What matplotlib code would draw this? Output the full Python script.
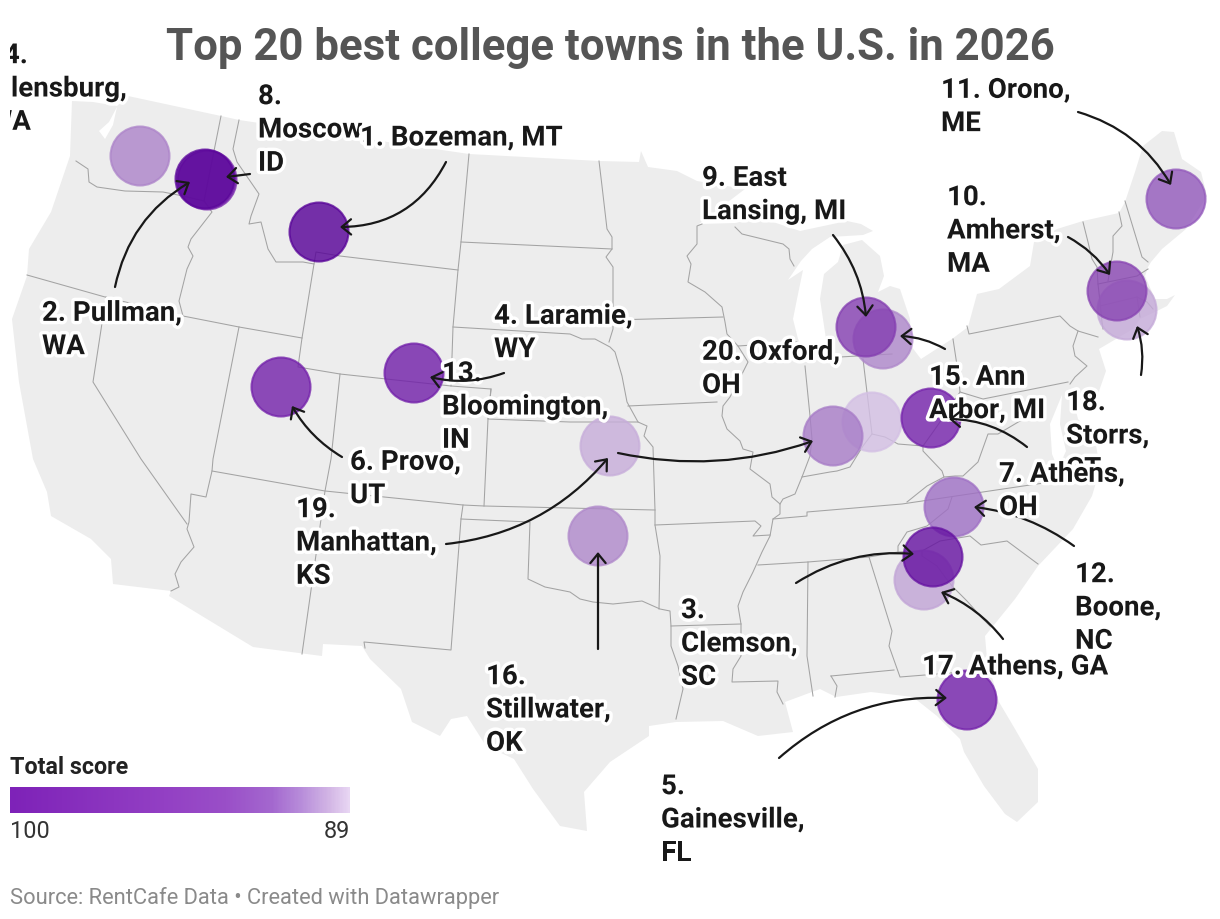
import numpy as np
import matplotlib
matplotlib.use("Agg")
import matplotlib.pyplot as plt
import matplotlib.patheffects as pe
from matplotlib.colors import LinearSegmentedColormap, Normalize
from matplotlib.patches import FancyArrowPatch, Rectangle

plt.rcParams['font.family'] = ['Roboto', 'DejaVu Sans']

# towns, by rank
ranks = list(range(1, 21))
town_labels = ["1. Bozeman, MT", "2. Pullman,\nWA", "3.\nClemson,\nSC", "4. Laramie,\nWY",
               "5.\nGainesville,\nFL", "6. Provo,\nUT", "7. Athens,\nOH", "8.\nMoscow,\nID",
               "9. East\nLansing, MI", "10.\nAmherst,\nMA", "11. Orono,\nME", "12.\nBoone,\nNC",
               "13.\nBloomington,\nIN", "14.\nEllensburg,\nWA", "15. Ann\nArbor, MI",
               "16.\nStillwater,\nOK", "17. Athens, GA", "18.\nStorrs,\nCT",
               "19.\nManhattan,\nKS", "20. Oxford,\nOH"]
scores = [100, 99.6, 98.6, 97.6, 97.5, 97.4, 97.3, 97.1, 95.0, 94.5,
          93.8, 93.0, 92.2, 91.8, 91.6, 91.5, 90.4, 90.2, 90.0, 89.0]

# projected town positions on the map (map pixels)
town_x = [319, 205, 933, 414, 967, 281, 931, 207, 866, 1117, 1176, 954, 833, 140, 883, 598, 924, 1127, 610, 872]
town_y = [233, 180, 558, 374, 701, 388, 419, 181, 328, 292, 200, 508, 437, 157, 340, 537, 581, 311, 447, 423]

label_x = [360, 42, 681, 494, 661, 350, 999, 258, 702, 947, 941, 1075, 442, -12, 929, 486, 922, 1066, 296, 702]
label_y = [139, 331, 645, 334, 821, 480, 492, 131, 196, 232, 108, 609, 408, 90, 395, 711, 668, 437, 544, 370]

# callout arrows: rank, start, end, bend
arrow_ranks = [1, 2, 3, 4, 5, 6, 7, 8, 9, 10, 11, 12, 13, 15, 16, 17, 18, 19]
arrow_start = [(446, 163), (115, 288), (796, 584), (504, 374), (779, 759), (342, 458), (1027, 448), (250, 175),
               (833, 236), (1068, 238), (1078, 113), (1074, 547), (618, 454), (945, 350), (598, 650),
               (1003, 640), (1141, 376), (446, 545)]
arrow_end = [(340, 228), (190, 183), (914, 555), (430, 378), (947, 699), (292, 407), (949, 420), (226, 178),
             (866, 318), (1110, 276), (1171, 186), (974, 508), (813, 442), (900, 337), (598, 553),
             (941, 593), (1137, 327), (608, 459)]
arrow_bend = [-0.3, -0.22, -0.17, -0.15, -0.2, -0.13, 0.17, 0.0, -0.15, -0.12, -0.2, 0.13, 0.14, 0.12, 0.0, 0.13, 0.12, 0.2]

# colour scale
score_stops = [89, 90, 91.5, 93, 94.5, 97.3, 100]
bubble_colors = ["#d3bfe4", "#c7addA", "#af88ca", "#9e6fc4", "#8844b2", "#7421ab", "#560097"]
legend_stops = [89, 89.6, 90.5, 91.5, 93, 95, 100]
legend_colors = ["#e8d6f3", "#d4b8e6", "#b98fdb", "#a468cf", "#9a4fc8", "#9340c4", "#7e22b8"]

# map outline
land_outline = [(72, 102), (93, 103), (117, 107), (128, 97), (221, 117), (239, 121), (469, 155), (599, 162),
                (639, 163), (641, 152), (648, 168), (677, 172), (697, 182), (745, 190), (699, 225), (735, 224),
                (760, 213), (770, 222), (800, 232), (847, 222), (861, 225), (873, 232), (863, 236), (830, 238),
                (812, 250), (801, 262), (788, 281), (803, 271), (797, 300), (793, 320), (798, 340), (808, 358),
                (820, 362), (826, 340), (820, 300), (824, 275), (838, 263), (843, 246), (862, 241), (880, 257),
                (884, 277), (878, 293), (890, 287), (900, 290), (910, 320), (911, 347), (921, 360), (952, 340),
                (968, 328), (977, 295), (999, 290), (1030, 267), (1034, 243), (1057, 230), (1083, 222), (1119, 214),
                (1125, 203), (1135, 173), (1143, 147), (1162, 132), (1174, 133), (1182, 160), (1201, 173),
                (1207, 197), (1186, 230), (1162, 250), (1151, 263), (1148, 268), (1145, 277), (1155, 300),
                (1167, 300), (1175, 296), (1167, 307), (1157, 312), (1140, 320), (1133, 330), (1099, 350),
                (1106, 372), (1098, 395), (1082, 402), (1072, 396), (1078, 420), (1095, 440), (1100, 470),
                (1092, 497), (1073, 530), (1038, 567), (1015, 600), (985, 637), (987, 660), (999, 703), (1015, 730),
                (1038, 770), (1038, 803), (1017, 823), (1005, 815), (984, 787), (964, 753), (960, 740), (937, 717),
                (913, 698), (871, 693), (836, 698), (820, 690), (785, 703), (793, 733), (758, 737), (723, 722),
                (676, 723), (649, 727), (649, 737), (610, 763), (584, 793), (587, 832), (560, 827), (533, 790),
                (514, 760), (486, 747), (467, 717), (451, 720), (440, 737), (412, 723), (401, 690), (370, 660),
                (362, 647), (323, 645), (322, 657), (253, 648), (169, 597), (171, 592), (113, 585), (111, 560),
                (91, 540), (51, 517), (47, 493), (33, 460), (19, 383), (12, 320), (27, 277), (29, 250), (51, 213),
                (70, 157)]

water_bits = [[(1062, 396), (1050, 425), (1052, 455), (1058, 470), (1066, 452), (1060, 425)],
              [(117, 108), (109, 123), (99, 132), (105, 140), (113, 126)]]

state_lines = [
    [(76, 162), (88, 170), (89, 183), (97, 188), (125, 192), (163, 193), (183, 197), (204, 202)],
    [(221, 117), (204, 202), (212, 213), (191, 240), (188, 248), (193, 257), (187, 270), (179, 302), (183, 317)],
    [(27, 276), (105, 298), (183, 317), (239, 328), (302, 339)],
    [(239, 121), (233, 150), (237, 163), (259, 195), (251, 217), (249, 225), (261, 223), (268, 250), (276, 263),
     (303, 263), (314, 265), (316, 253), (340, 257), (458, 271)],
    [(314, 265), (302, 339), (298, 368), (340, 375), (451, 387), (491, 390), (488, 420), (570, 423), (638, 423)],
    [(340, 375), (331, 460), (325, 492), (302, 655)],
    [(469, 155), (461, 243), (458, 271), (453, 328), (451, 387)],
    [(461, 243), (612, 250)],
    [(453, 328), (570, 335), (582, 340), (595, 340), (610, 348), (615, 353), (622, 377), (627, 403), (638, 423),
     (647, 427), (644, 437), (653, 448), (655, 511), (655, 526), (660, 557), (659, 610)],
    [(599, 162), (602, 187), (607, 230), (612, 238), (612, 250), (606, 258), (613, 268), (613, 330), (609, 343)],
    [(613, 321), (723, 318)],
    [(628, 407), (717, 403)],
    [(702, 225), (697, 227), (697, 245), (687, 257), (691, 265), (688, 283), (705, 293), (722, 308), (725, 323),
     (727, 335), (738, 347), (748, 363), (743, 373), (730, 398), (723, 407), (722, 417), (727, 430), (740, 442),
     (743, 450), (753, 453), (750, 470), (770, 485), (772, 498), (780, 505), (780, 515), (773, 520), (770, 537),
     (762, 553), (753, 573), (743, 593), (738, 607), (741, 625), (741, 657), (733, 670), (732, 683), (778, 682),
     (777, 693), (783, 705)],
    [(738, 347), (797, 343)],
    [(735, 228), (742, 235), (783, 245), (789, 250), (790, 260), (794, 267)],
    [(212, 472), (325, 492), (463, 506), (484, 507), (610, 510), (655, 511)],
    [(655, 526), (755, 522), (761, 527), (753, 537), (770, 536)],
    [(671, 627), (741, 625)],
    [(239, 328), (213, 460), (212, 472), (206, 498), (191, 495), (189, 523), (187, 530), (194, 548), (181, 563),
     (175, 575), (179, 588), (171, 592)],
    [(106, 298), (93, 383), (141, 460), (187, 525)],
    [(463, 506), (461, 520), (451, 651), (364, 643), (365, 649)],
    [(461, 520), (530, 523), (528, 580), (545, 588), (570, 593), (580, 600), (593, 603), (613, 605), (642, 602),
     (660, 610), (670, 612), (671, 627), (671, 647), (678, 667), (683, 690), (679, 707), (676, 720)],
    [(491, 390), (488, 420), (484, 507)],
    [(758, 566), (808, 563), (869, 558), (898, 553), (922, 552), (940, 542), (970, 537), (981, 546), (1007, 542),
     (1038, 565)],
    [(773, 520), (807, 517), (807, 513), (902, 505), (1030, 486), (1085, 478)],
    [(808, 563), (807, 657), (813, 697)],
    [(869, 558), (892, 632), (889, 647), (900, 678), (975, 672)],
    [(831, 677), (894, 671)],
    [(831, 677), (837, 687), (835, 698)],
    [(805, 367), (810, 417), (812, 440), (810, 457), (802, 478), (795, 495), (783, 500), (780, 505)],
    [(802, 478), (830, 473), (837, 472), (850, 468), (863, 447), (872, 435), (885, 438), (898, 445), (923, 447),
     (933, 433), (940, 423), (960, 393)],
    [(863, 360), (872, 435)],
    [(840, 358), (892, 355)],
    [(923, 447), (923, 452), (942, 472), (944, 478), (927, 487), (907, 503)],
    [(944, 478), (955, 477), (963, 477), (978, 463), (988, 435), (998, 435), (1020, 422)],
    [(953, 340), (958, 373), (960, 393), (983, 400), (1068, 383)],
    [(967, 327), (969, 335), (1060, 317), (1070, 327), (1078, 332), (1098, 338)],
    [(1078, 332), (1073, 347), (1075, 357), (1087, 367), (1075, 378), (1070, 385)],
    [(1083, 223), (1088, 243), (1092, 260), (1097, 268), (1098, 285), (1100, 303), (1102, 323), (1103, 330)],
    [(1119, 213), (1122, 227), (1113, 237), (1113, 253), (1110, 270), (1108, 282)],
    [(1125, 202), (1142, 258), (1148, 263)],
    [(1098, 285), (1137, 277), (1148, 270)],
    [(1100, 307), (1137, 298), (1147, 303), (1153, 310)],
    [(1137, 298), (1140, 318)],
    [(952, 498), (948, 510), (927, 527), (907, 533), (898, 547), (898, 553)],
    [(922, 552), (922, 557), (937, 567), (948, 582), (953, 588), (967, 602), (983, 620), (990, 627)],
]

PX = 72 / 100  # font pixels to points at this dpi

fig = plt.figure(figsize=(12.2, 9.2), dpi=100)
ax = fig.add_axes([0, 0, 1, 1])

# map
ax.fill(*zip(*land_outline), color="#ededed", lw=0, zorder=1)
for bit in water_bits:
    ax.fill(*zip(*bit), color="white", lw=0, zorder=1)
for line in state_lines:
    ax.plot(*zip(*line), color="#a3a3a3", lw=0.75, zorder=2, solid_joinstyle="round")

# bubbles, low ranks first so the top towns sit on top
bubble_cmap = LinearSegmentedColormap.from_list(
    "bubbles", [((s - 89) / 11, c) for s, c in zip(score_stops, bubble_colors)])
norm = Normalize(89, 100)
order = np.argsort(ranks)[::-1]
rgb = bubble_cmap(norm(np.array(scores)[order]))
face = rgb.copy()
face[:, 3] = 0.8
edge = rgb.copy()
edge[:, 3] = 0.75
ax.scatter(np.array(town_x)[order], np.array(town_y)[order], s=(59 * PX) ** 2,
           facecolors=face, edgecolors=edge, linewidths=1.5, zorder=3)

# labels and arrows go in pairs, rank 20 at the bottom and rank 1 on top
map_clip = Rectangle((10, 0), 1210, 920, transform=ax.transData)
halo = [pe.withStroke(linewidth=5, foreground="white")]
for i, rank in enumerate(ranks):
    t = ax.text(label_x[i], label_y[i], town_labels[i], fontsize=27.7 * PX, fontweight="bold",
                color="#181818", ha="left", va="center", linespacing=1.3,
                path_effects=halo, zorder=100 - rank)
    t.set_clip_path(map_clip)
    t.set_clip_on(True)

for i, rank in enumerate(arrow_ranks):
    arrow = FancyArrowPatch(arrow_start[i], arrow_end[i], connectionstyle="arc3,rad=%s" % arrow_bend[i],
                            arrowstyle="->,head_length=6.7,head_width=5.5", mutation_scale=1,
                            color="#181818", lw=1.6, shrinkA=0, shrinkB=0, zorder=100 - rank + 0.5)
    ax.add_patch(arrow)

ax.text(610, 48, "Top 20 best college towns in the U.S. in 2026", fontsize=43.8 * PX, fontweight="bold",
        color="#555555", ha="center", va="center", zorder=200)

# legend
legend_cmap = LinearSegmentedColormap.from_list(
    "legend", [((s - 89) / 11, c) for s, c in zip(legend_stops, legend_colors)])
ax.text(10, 768, "Total score", fontsize=23.2 * PX, fontweight="bold", color="#222222", ha="left", va="center")
ax.imshow(np.linspace(100, 89, 340)[None, :], extent=(10, 350, 814, 788), cmap=legend_cmap, norm=norm,
          aspect="auto", zorder=5)
ax.text(10, 832, "100", fontsize=23.5 * PX, color="#333333", ha="left", va="center")
ax.text(350, 832, "89", fontsize=23.5 * PX, color="#333333", ha="right", va="center")

ax.text(10, 898, "Source: RentCafe Data \u2022 Created with Datawrapper", fontsize=21.9 * PX, color="#8a8a8a",
        ha="left", va="center")

ax.set_xlim(0, 1220)
ax.set_ylim(920, 0)
ax.axis("off")

fig.savefig("out.png", dpi=100, facecolor="white")
